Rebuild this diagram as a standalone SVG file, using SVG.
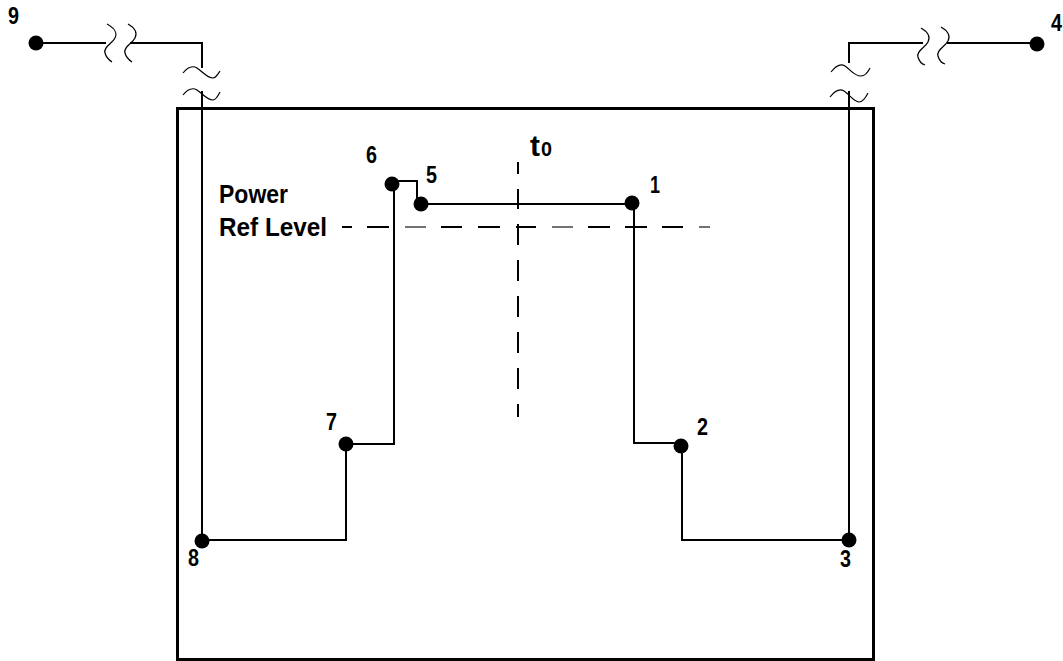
<svg xmlns="http://www.w3.org/2000/svg" width="1063" height="661" viewBox="0 0 1063 661">
<style>
text{font-family:"Liberation Sans Narrow","Liberation Sans",Arial,sans-serif;font-weight:bold;fill:#000}
.n{font-size:23px}
.l{font-size:26px}
.w{fill:none;stroke:#000;stroke-width:2}
.b{fill:none;stroke:#000;stroke-width:1.2}
.d{fill:#000}
</style>
<rect width="1063" height="661" fill="#fff"/>
<rect x="177.500" y="108.500" width="696" height="551" fill="none" stroke="#000" stroke-width="3"/>
<g id="connectors">
<path class="w" d="M36 43H106M130 43H202V68M202 91V540"/>
<path class="w" d="M849 63V43H923M947 43H1037M849 91V540"/>
<path class="w" d="M392 181H417V204M421 204H632M634 203V443H681M682 446V540H849"/>
<path class="w" d="M394 184V444H346V540H202"/>
<path class="w" d="M342 227H352M367 227H389M441 227H462M478 227H500M516 227H536M588 227H610M625 227H647M662 227H683"/>
<path d="M405 227H426M552 227H573M699 227H710" fill="none" stroke="#444" stroke-width="1.300"/>
<path class="w" d="M518 162V174M518 189V209M518 224V245M518 260V281M518 296V317M518 332V353M518 368V389M518 404V417"/>
<path class="b" d="M107 24C114 28 118 32 115 38C112 44 103 47 105 53C106 57 109 60 112 62"/>
<path class="b" d="M128 24C135 28 138 32 135 38C132 44 123 47 125 53C126 57 129 60 132 62"/>
<path class="b" d="M183 73C187 68 192 65 197 68C203 72 207 78 213 78C216 78 218 74 220 71"/>
<path class="b" d="M183 95C187 90 192 87 197 90C203 94 207 100 213 100C216 100 218 96 220 92"/>
<path class="b" d="M921 28C928 32 931 36 928 42C925 48 916 51 918 57C919 61 922 64 925 65"/>
<path class="b" d="M941 27C948 31 951 35 948 41C945 47 936 50 938 56C939 60 942 63 945 64"/>
<path class="b" d="M831 72C835 67 840 63 845 66C851 70 854 76 861 76C865 76 868 72 870 68"/>
<path class="b" d="M830 97C834 92 839 88 844 91C850 95 853 101 859 102C863 102 866 97 868 93"/>
</g>
<g id="node-1"><circle class="d" cx="632" cy="203" r="7.500"/><text class="n" x="650" y="193" textLength="10" lengthAdjust="spacingAndGlyphs">1</text></g>
<g id="node-2"><circle class="d" cx="681" cy="446" r="7.500"/><text class="n" x="697" y="435" textLength="11" lengthAdjust="spacingAndGlyphs">2</text></g>
<g id="node-3"><circle class="d" cx="849" cy="540" r="7.500"/><text class="n" x="840" y="567" textLength="11" lengthAdjust="spacingAndGlyphs">3</text></g>
<g id="node-4"><circle class="d" cx="1037" cy="44" r="7.500"/><text class="n" x="1051" y="31" textLength="11" lengthAdjust="spacingAndGlyphs">4</text></g>
<g id="node-5"><circle class="d" cx="421" cy="204" r="7.500"/><text class="n" x="426" y="183" textLength="11" lengthAdjust="spacingAndGlyphs">5</text></g>
<g id="node-6"><circle class="d" cx="392" cy="184" r="7.500"/><text class="n" x="366" y="163" textLength="11" lengthAdjust="spacingAndGlyphs">6</text></g>
<g id="node-7"><circle class="d" cx="346" cy="444" r="7.500"/><text class="n" x="326" y="430" textLength="11" lengthAdjust="spacingAndGlyphs">7</text></g>
<g id="node-8"><circle class="d" cx="202" cy="541" r="7.500"/><text class="n" x="188" y="566" textLength="11" lengthAdjust="spacingAndGlyphs">8</text></g>
<g id="node-9"><circle class="d" cx="36" cy="43" r="7.500"/><text class="n" x="8" y="24" textLength="11" lengthAdjust="spacingAndGlyphs">9</text></g>
<g id="labels">
<text class="l" x="219" y="203" textLength="69" lengthAdjust="spacingAndGlyphs">Power</text>
<text class="l" x="219" y="236" textLength="108" lengthAdjust="spacingAndGlyphs">Ref Level</text>
<text x="530" y="156" font-size="30" textLength="10" lengthAdjust="spacingAndGlyphs">t</text>
<text x="541" y="156" font-size="20" textLength="11" lengthAdjust="spacingAndGlyphs">0</text>
</g>
</svg>
